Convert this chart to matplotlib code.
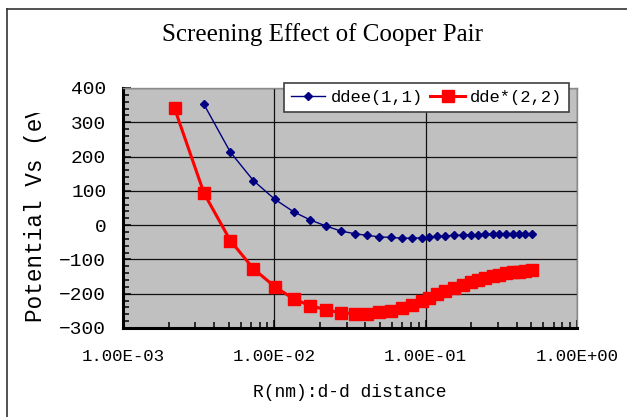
import matplotlib
matplotlib.use("Agg")
import matplotlib.pyplot as plt
from matplotlib.lines import Line2D
from matplotlib.ticker import MultipleLocator, LogLocator, FixedLocator, NullFormatter
from matplotlib.transforms import Bbox

# ---- data ----
r_blue = [0.00343, 0.00512, 0.00727, 0.0101, 0.0134, 0.0173, 0.0221, 0.0274, 0.0340, 0.0411,
          0.0493, 0.0587, 0.0694, 0.0808, 0.0941, 0.1056, 0.1193, 0.1348, 0.1539, 0.1757,
          0.1985, 0.2218, 0.248, 0.2776, 0.3069, 0.340, 0.3765, 0.4125, 0.452, 0.503]
v_blue = [352, 213, 130, 75, 39, 15, -3, -17, -25, -30,
          -34, -36, -38, -38, -37, -36, -33, -31, -30, -29,
          -28, -28, -27, -27, -27, -26, -26, -26, -26, -26]

r_red = [0.00219, 0.00343, 0.00512, 0.00727, 0.0101, 0.0134, 0.0173, 0.0221, 0.0274, 0.0340,
         0.0411, 0.0493, 0.0587, 0.0694, 0.0808, 0.0941, 0.1056, 0.1193, 0.1348, 0.1539,
         0.1757, 0.1985, 0.2218, 0.248, 0.2776, 0.3069, 0.340, 0.3765, 0.4125, 0.452, 0.503]
v_red = [341, 93, -45, -127, -180, -215, -235, -247, -256, -258,
         -258, -254, -249, -243, -233, -222, -212, -202, -193, -184,
         -175, -167, -160, -154, -149, -145, -141, -138, -136, -134, -131]

series_names = ["ddee(1,1)", "dde*(2,2)"]
x_ticks = [1e-3, 1e-2, 1e-1, 1e0]
x_ticklabels = ["1.00E-03", "1.00E-02", "1.00E-01", "1.00E+00"]
y_ticks = [-300, -200, -100, 0, 100, 200, 300, 400]

title = "Screening Effect of Cooper Pair"
xlabel = "R(nm):d-d distance"
ylabel = "Potential Vs (eV)"

# ---- figure ----
W, H = 627, 417
fig = plt.figure(figsize=(W / 100, H / 100), dpi=100)
fig.patch.set_facecolor("white")

L, R, T, B = 123, 577, 88, 328
ax = fig.add_axes([L / W, 1 - B / H, (R - L) / W, (B - T) / H])
ax.set_facecolor("#C0C0C0")
ax.set_xscale("log")
ax.set_xlim(1e-3, 1.0)
ax.set_ylim(-300, 400)

ax.plot(r_blue, v_blue, color="#000080", lw=1.0, marker="D", ms=4.3,
        mfc="#000080", mec="#000080", label=series_names[0], zorder=3)
ax.plot(r_red, v_red, color="#FF0000", lw=2.2, marker="s", ms=8.8,
        mfc="#FF0000", mec="#FF0000", label=series_names[1], zorder=4)

# grid
ax.set_yticks(y_ticks)
ax.yaxis.set_minor_locator(MultipleLocator(20))
ax.xaxis.set_major_locator(FixedLocator(x_ticks))
ax.xaxis.set_minor_locator(LogLocator(base=10, subs=range(2, 10)))
ax.xaxis.set_minor_formatter(NullFormatter())
ax.set_xticklabels(x_ticklabels)
ax.grid(True, which="major", color="#111111", lw=0.9)
ax.set_axisbelow(True)

mono = "Liberation Mono"
ax.tick_params(axis="both", which="major", direction="in", length=6, width=1.1,
               color="black", pad=12)
ax.tick_params(axis="both", which="minor", direction="in", length=4, width=1.1, color="black")
ax.tick_params(axis="y", which="major", labelsize=14)
ax.tick_params(axis="x", which="major", labelsize=12.5, pad=15)
for lab in ax.get_xticklabels() + ax.get_yticklabels():
    lab.set_fontfamily(mono)

for s in ("left", "bottom"):
    ax.spines[s].set_color("black")
    ax.spines[s].set_linewidth(2.2)
for s in ("top", "right"):
    ax.spines[s].set_color("#8a8a8a")
    ax.spines[s].set_linewidth(1.0)

# labels
ax.set_xlabel(xlabel, fontfamily=mono, fontsize=13)
ax.xaxis.set_label_coords(0.5, -0.235)

yl = fig.text(36 / W, 1 - 322 / H, ylabel, rotation=90, ha="center", va="bottom",
              fontfamily=mono, fontsize=16.3)
yl.set_clip_box(Bbox([[0, 0], [W, H - 113]]))
yl.set_clip_on(True)

fig.text(323 / W, 1 - 35 / H, title, ha="center", va="center",
         fontfamily="Liberation Serif", fontsize=18)

leg = ax.legend(loc="upper right", bbox_to_anchor=(0.982, 1.021), ncol=2,
                prop={"family": mono, "size": 12.3}, frameon=True, fancybox=False,
                borderaxespad=0, handlelength=2.0, handletextpad=0.3,
                columnspacing=0.45, borderpad=0.4)
leg.get_frame().set_edgecolor("#404040")
leg.get_frame().set_linewidth(1.2)
leg.get_frame().set_facecolor("white")
leg.get_frame().set_alpha(1)

# outer chart border (partially visible)
fig.add_artist(Line2D([7 / W, 7 / W], [0, 1 - 9 / H], transform=fig.transFigure,
                      color="#333333", lw=1.2))
fig.add_artist(Line2D([7 / W, 1], [1 - 9 / H, 1 - 9 / H], transform=fig.transFigure,
                      color="#333333", lw=1.2))

fig.savefig("out.png", dpi=100)
